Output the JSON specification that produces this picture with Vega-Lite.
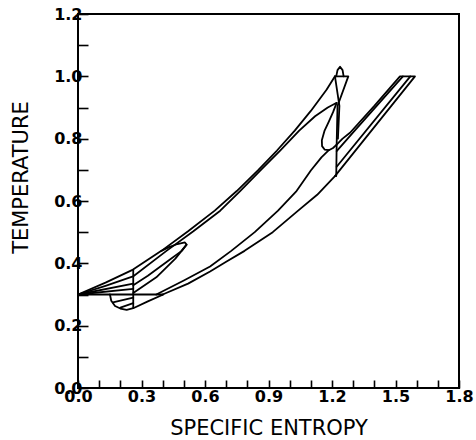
{
  "$schema": "https://vega.github.io/schema/vega-lite/v6.json",
  "width": 381,
  "height": 374,
  "autosize": "none",
  "padding": {"left": 78, "top": 14, "right": 17, "bottom": 52},
  "background": "white",
  "config": {
    "view": {"stroke": "black", "strokeWidth": 2},
    "axis": {
      "domain": false,
      "grid": false,
      "tickColor": "black",
      "tickWidth": 1.6,
      "labelColor": "black",
      "labelFont": "DejaVu Sans",
      "labelFontSize": 16,
      "labelFontWeight": "bold",
      "labelOverlap": false,
      "labelBound": false,
      "labelFlush": false,
      "titleColor": "black",
      "titleFont": "DejaVu Sans",
      "titleFontSize": 21,
      "titleFontWeight": "normal"
    }
  },
  "data": {"values": [
    {"id":"p1","o":0,"s":0,"t":0.3},{"id":"p1","o":1,"s":0.13,"t":0.338},{"id":"p1","o":2,"s":0.26,"t":0.38},{"id":"p1","o":3,"s":0.394,"t":0.44},{"id":"p1","o":4,"s":0.52,"t":0.503},{"id":"p1","o":5,"s":0.646,"t":0.569},{"id":"p1","o":6,"s":0.75,"t":0.632},{"id":"p1","o":7,"s":0.85,"t":0.698},{"id":"p1","o":8,"s":0.94,"t":0.762},{"id":"p1","o":9,"s":1.024,"t":0.826},{"id":"p1","o":10,"s":1.1,"t":0.889},{"id":"p1","o":11,"s":1.175,"t":0.958},{"id":"p1","o":12,"s":1.214,"t":1.0},
    {"id":"p2","o":0,"s":1.214,"t":1.0},{"id":"p2","o":1,"s":1.277,"t":1.0},{"id":"p2","o":2,"s":1.226,"t":0.905},{"id":"p2","o":3,"s":1.222,"t":0.78},{"id":"p2","o":4,"s":1.22,"t":0.68},
    {"id":"p3","o":0,"s":1.214,"t":1.0},{"id":"p3","o":1,"s":1.235,"t":0.905},{"id":"p3","o":2,"s":1.228,"t":0.8},
    {"id":"p4","o":0,"s":1.22,"t":1.0},{"id":"p4","o":1,"s":1.226,"t":1.02},{"id":"p4","o":2,"s":1.238,"t":1.031},{"id":"p4","o":3,"s":1.25,"t":1.02},{"id":"p4","o":4,"s":1.255,"t":1.0},
    {"id":"p5","o":0,"s":0,"t":0.3},{"id":"p5","o":1,"s":0.13,"t":0.328},{"id":"p5","o":2,"s":0.26,"t":0.358},{"id":"p5","o":3,"s":0.418,"t":0.44},{"id":"p5","o":4,"s":0.545,"t":0.503},{"id":"p5","o":5,"s":0.672,"t":0.569},{"id":"p5","o":6,"s":0.766,"t":0.632},{"id":"p5","o":7,"s":0.862,"t":0.698},{"id":"p5","o":8,"s":0.955,"t":0.762},{"id":"p5","o":9,"s":1.045,"t":0.826},{"id":"p5","o":10,"s":1.12,"t":0.872},{"id":"p5","o":11,"s":1.18,"t":0.9},{"id":"p5","o":12,"s":1.222,"t":0.915},
    {"id":"p6","o":0,"s":1.222,"t":0.915},{"id":"p6","o":1,"s":1.205,"t":0.885},{"id":"p6","o":2,"s":1.185,"t":0.855},{"id":"p6","o":3,"s":1.165,"t":0.826},{"id":"p6","o":4,"s":1.152,"t":0.795},{"id":"p6","o":5,"s":1.153,"t":0.776},{"id":"p6","o":6,"s":1.165,"t":0.765},{"id":"p6","o":7,"s":1.185,"t":0.763},{"id":"p6","o":8,"s":1.205,"t":0.77},{"id":"p6","o":9,"s":1.222,"t":0.781},
    {"id":"p7","o":0,"s":0.37,"t":0.3},{"id":"p7","o":1,"s":0.5,"t":0.345},{"id":"p7","o":2,"s":0.624,"t":0.39},{"id":"p7","o":3,"s":0.724,"t":0.44},{"id":"p7","o":4,"s":0.835,"t":0.5},{"id":"p7","o":5,"s":0.945,"t":0.569},{"id":"p7","o":6,"s":1.03,"t":0.63},{"id":"p7","o":7,"s":1.1,"t":0.698},{"id":"p7","o":8,"s":1.15,"t":0.74},{"id":"p7","o":9,"s":1.185,"t":0.763},
    {"id":"p8","o":0,"s":0.4,"t":0.3},{"id":"p8","o":1,"s":0.52,"t":0.335},{"id":"p8","o":2,"s":0.624,"t":0.374},{"id":"p8","o":3,"s":0.7,"t":0.405},{"id":"p8","o":4,"s":0.787,"t":0.44},{"id":"p8","o":5,"s":0.92,"t":0.5},{"id":"p8","o":6,"s":1.04,"t":0.569},{"id":"p8","o":7,"s":1.13,"t":0.62},{"id":"p8","o":8,"s":1.214,"t":0.68},
    {"id":"p9","o":0,"s":1.222,"t":0.781},{"id":"p9","o":1,"s":1.25,"t":0.8},{"id":"p9","o":2,"s":1.285,"t":0.819},{"id":"p9","o":3,"s":1.4,"t":0.905},{"id":"p9","o":4,"s":1.521,"t":1.0},{"id":"p9","o":5,"s":1.592,"t":1.0},{"id":"p9","o":6,"s":1.214,"t":0.68},
    {"id":"p10","o":0,"s":1.535,"t":1.0},{"id":"p10","o":1,"s":1.3,"t":0.82},{"id":"p10","o":2,"s":1.222,"t":0.76},
    {"id":"p11","o":0,"s":1.57,"t":1.0},{"id":"p11","o":1,"s":1.222,"t":0.71},
    {"id":"p12","o":0,"s":0,"t":0.3},{"id":"p12","o":1,"s":0.4,"t":0.3},
    {"id":"p13","o":0,"s":0.261,"t":0.256},{"id":"p13","o":1,"s":0.261,"t":0.38},
    {"id":"p14","o":0,"s":0.151,"t":0.3},{"id":"p14","o":1,"s":0.157,"t":0.28},{"id":"p14","o":2,"s":0.175,"t":0.263},{"id":"p14","o":3,"s":0.2,"t":0.255},{"id":"p14","o":4,"s":0.23,"t":0.251},{"id":"p14","o":5,"s":0.261,"t":0.256},{"id":"p14","o":6,"s":0.33,"t":0.278},{"id":"p14","o":7,"s":0.403,"t":0.3},
    {"id":"p15","o":0,"s":0,"t":0.3},{"id":"p15","o":1,"s":0.261,"t":0.335},
    {"id":"p16","o":0,"s":0,"t":0.3},{"id":"p16","o":1,"s":0.261,"t":0.318},
    {"id":"p17","o":0,"s":0.261,"t":0.33},{"id":"p17","o":1,"s":0.33,"t":0.36},{"id":"p17","o":2,"s":0.42,"t":0.405},{"id":"p17","o":3,"s":0.49,"t":0.44},{"id":"p17","o":4,"s":0.513,"t":0.46},{"id":"p17","o":5,"s":0.505,"t":0.467},{"id":"p17","o":6,"s":0.47,"t":0.462},{"id":"p17","o":7,"s":0.43,"t":0.452},{"id":"p17","o":8,"s":0.394,"t":0.44},
    {"id":"p18","o":0,"s":0.165,"t":0.275},{"id":"p18","o":1,"s":0.261,"t":0.29},
    {"id":"p19","o":0,"s":0.2,"t":0.258},{"id":"p19","o":1,"s":0.261,"t":0.272},
    {"id":"p20","o":0,"s":0.261,"t":0.305},{"id":"p20","o":1,"s":0.37,"t":0.355},{"id":"p20","o":2,"s":0.46,"t":0.415},{"id":"p20","o":3,"s":0.513,"t":0.46}
  ]},
  "mark": {"type": "line", "color": "black", "strokeWidth": 1.8, "strokeJoin": "round", "strokeCap": "round"},
  "encoding": {
    "x": {
      "field": "s", "type": "quantitative",
      "scale": {"domain": [0, 1.8], "nice": false, "zero": false},
      "axis": {
        "title": "SPECIFIC ENTROPY",
        "values": [0,0.1,0.2,0.3,0.4,0.5,0.6,0.7,0.8,0.9,1.0,1.1,1.2,1.3,1.4,1.5,1.6,1.7,1.8],
        "labelExpr": "abs(datum.value*10 - round(datum.value*10/3)*3) < 0.01 ? format(datum.value, '.1f') : ''",
        "tickSize": -8,
        "labelPadding": 8,
        "titleBaseline": "bottom",
        "titleY": 50
      }
    },
    "y": {
      "field": "t", "type": "quantitative",
      "scale": {"domain": [0, 1.2], "nice": false, "zero": false},
      "axis": {
        "title": "TEMPERATURE",
        "values": [0,0.1,0.2,0.3,0.4,0.5,0.6,0.7,0.8,0.9,1.0,1.1,1.2],
        "labelExpr": "abs(datum.value*10 - round(datum.value*5)*2) < 0.01 ? format(datum.value, '.1f') : ''",
        "tickSize": -10,
        "labelPadding": 6,
        "titleX": -47,
        "titleY": 163
      }
    },
    "detail": {"field": "id"},
    "order": {"field": "o", "type": "quantitative"}
  }
}
